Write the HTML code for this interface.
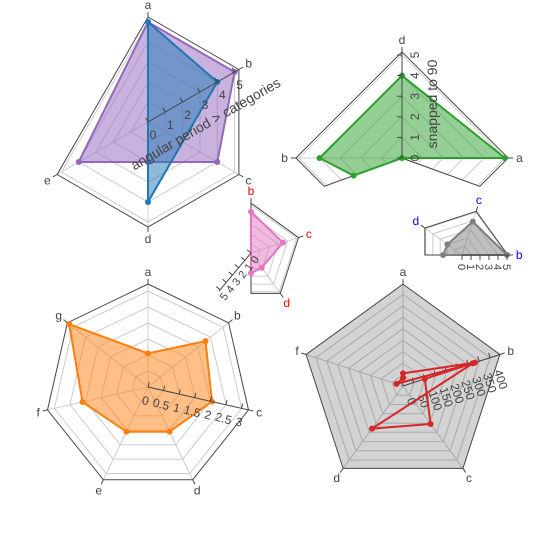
<!DOCTYPE html>
<html><head><meta charset="utf-8"><style>
html,body{margin:0;padding:0;background:#fff}
svg{display:block;font-family:"Liberation Sans","DejaVu Sans",sans-serif}
</style></head><body>
<svg id="chart" width="550" height="550" viewBox="0 0 550 550" xmlns="http://www.w3.org/2000/svg"></svg>
<script>
// ---- data ----
const p1Cats = ['a','b','c','d','e'];
const p1Purple = [5,5,4,2,4];
const p1BlueCats = ['a','b','d'];
const p1Blue = [5,4,4];
const p1Ticks = [0,1,2,3,4,5];
const p2Cats = ['a','d','b'];
const p2Green = [5,4,4,2.5,0];
const p2GreenAng = [0,90,180,200,0];
const p2Ticks = [0,1,2,3,4,5];
const p3Cats = ['b','c','d'];
const p3Pink = [4.3,3.5,1.9,2.1];
const p3Ticks = [0,1,2,3,4,5];
const p4Cats = ['b','c','d'];
const p4Gray = [5,3.9,2,2.1];
const p4Ticks = [0,1,2,3,4,5];
const p5Cats = ['a','b','c','d','e','f','g'];
const p5Orange = [1.05,2.3,2.05,1.55,1.55,2.1,3.15];
const p5Ticks = [0,0.5,1,1.5,2,2.5,3];
const p6Cats = ['a','b','c','d','f'];
const p6SeqCats = ['a','b','b','c','d','b','f','a'];
const p6Red = [55,330,100,205,230,320,30,35];
const p6Ticks = [0,50,100,150,200,250,300,350,400];

const svg = document.getElementById('chart');
const NS = 'http://www.w3.org/2000/svg';
function mk(tag, attrs, parent){const e=document.createElementNS(NS,tag);for(const k in attrs)e.setAttribute(k,attrs[k]);(parent||svg).appendChild(e);return e;}
function P(c,deg,v){const r=v*c.unit;const a=deg*Math.PI/180;return [c.cx+r*Math.cos(a), c.cy-r*Math.sin(a)];}
function norm(a){a=a%360;if(a<0)a+=360;return a;}
function polyR(verts,theta,r){
  const vs=verts.map(norm).sort((x,y)=>x-y);const t=norm(theta);
  for(let i=0;i<vs.length;i++){let v1=vs[i],v2=i+1<vs.length?vs[i+1]:vs[0]+360;let tt=t<v1?t+360:t;
    if(tt>=v1&&tt<=v2){const half=(v2-v1)/2,mid=(v1+v2)/2;return r*Math.cos(half*Math.PI/180)/Math.cos((tt-mid)*Math.PI/180);}}
  return r;
}
function ringPts(c,r){
  if(!c.sector){return c.verts.map(d=>P(c,d,r));}
  const [s,e]=c.sector;const pts=[];
  pts.push(P(c,s,polyR(c.verts,s,r)));
  const inside=c.verts.map(v=>{let d=v;while(d<s)d+=360;while(d>s+360)d-=360;return d;}).filter(d=>d>s&&d<e).sort((a,b)=>a-b);
  inside.forEach(d=>pts.push(P(c,d,r)));
  pts.push(P(c,e,polyR(c.verts,e,r)));
  pts.push([c.cx,c.cy]);
  return pts;
}
function ps(pts){return pts.map(p=>p[0].toFixed(1)+','+p[1].toFixed(1)).join(' ');}
function drawFrame(c,name){
  const g=mk('g',{});
  
  
  if(c.bg){mk('polygon',{points:ps(ringPts(c,c.frame)),fill:c.bg,stroke:'none'},g);}
  c.rings.forEach(r=>{mk('polygon',{points:ps(ringPts(c,r)),fill:'none',stroke:c.grid||'#cccccc','stroke-width':1},g);});
  c.verts.forEach(d=>{if(c.sector){let dd=d;while(dd<c.sector[0])dd+=360;if(dd>c.sector[1])return;}const q=P(c,d,c.frame);mk('line',{x1:c.cx,y1:c.cy,x2:q[0],y2:q[1],stroke:c.grid||'#cccccc','stroke-width':1},g);});
  mk('polygon',{points:ps(ringPts(c,c.frame)),fill:'none',stroke:'#444','stroke-width':1},g);
  return g;
}
function angLabels(c,cats,angs,color,name){
  cats.forEach((t,i)=>{
    const d=angs[i];const a=d*Math.PI/180;const R=c.frame*c.unit;
    const x1=c.cx+R*Math.cos(a),y1=c.cy-R*Math.sin(a),x2=c.cx+(R+5)*Math.cos(a),y2=c.cy-(R+5)*Math.sin(a);
    const tk=mk('line',{x1:x1,y1:y1,x2:x2,y2:y2,stroke:'#444','stroke-width':1});
    
    
    const lx=c.cx+(R+12)*Math.cos(a),ly=c.cy-(R+12)*Math.sin(a)+4;
    const tx=mk('text',{x:lx,y:ly,'text-anchor':Math.abs(Math.cos(a))<0.3?'middle':(Math.cos(a)>0?'start':'end'),'font-size':12,fill:color});
    if(Math.abs(Math.cos(a))>=0.3){tx.setAttribute('x',lx+(Math.cos(a)>0?-4:4));}
    tx.textContent=t;
    
    
  });
}
function radAxis(c,deg,ticks,name,lblOff,rot,fs,tickSide,anchor){
  const a=deg*Math.PI/180;const e=P(c,deg,c.frame);
  const ax=mk('line',{x1:c.cx,y1:c.cy,x2:e[0],y2:e[1],stroke:'#444','stroke-width':1});
  
  
  const nx=Math.sin(a),ny=Math.cos(a);
  ticks.forEach(t=>{
    const p=P(c,deg,t);
    const tk=mk('line',{x1:p[0],y1:p[1],x2:p[0]+tickSide*nx*5,y2:p[1]+tickSide*ny*5,stroke:'#444','stroke-width':1});
    
    
    const lx=p[0]+nx*lblOff[0]+lblOff[1],ly=p[1]+ny*lblOff[0]+lblOff[2];
    const tx=mk('text',{x:lx,y:ly,'text-anchor':anchor||'middle','font-size':fs||12,fill:'#444',transform:'rotate('+rot+' '+lx+' '+ly+')'});
    tx.textContent=t;
    
    
  });
}
function marks(c,angs,vals,color,fill,name,close){
  const pts=vals.map((v,i)=>P(c,angs[i],v));
  const sh=mk(close?'polygon':'polyline',{points:ps(pts),fill:fill,stroke:color,'stroke-width':2,'stroke-linejoin':'round'});
  
  
  pts.forEach(p=>{const m=mk('circle',{cx:p[0],cy:p[1],r:3,fill:color});
    
    });
}

// ---- plot 1 ----
const c1={cx:148,cy:122,unit:20,verts:[90,30,-30,-90,-150],frame:5.25,rings:[1,2,3,4,5]};
const a1={a:90,b:30,c:-30,d:-90,e:-150};
drawFrame(c1,'polar1-grid');
marks(c1,p1Cats.map(k=>a1[k]),p1Purple,'#9467bd','rgba(148,103,189,0.5)','purple-series',true);
marks(c1,p1BlueCats.map(k=>a1[k]),p1Blue,'#1f77b4','rgba(31,119,180,0.5)','blue-series',true);
radAxis(c1,30,p1Ticks,'polar1-radial-axis',[16,-3,3],0,12,-1);
angLabels(c1,p1Cats,p1Cats.map(k=>a1[k]),'#444','polar1-angular');
{const t=mk('text',{x:208,y:128,'text-anchor':'middle','font-size':14,fill:'#444',transform:'rotate(-30 208 128)'});t.textContent='angular period > categories';}

// ---- plot 2 ----
const c2={cx:402,cy:158,unit:20.6,verts:[0,90,180,270],sector:[-20,200],frame:5.15,rings:[1,2,3,4,5]};
const a2={a:0,d:90,b:180};
drawFrame(c2,'polar2-grid');
marks(c2,p2GreenAng,p2Green,'#2ca02c','rgba(44,160,44,0.5)','green-series',true);
radAxis(c2,90,p2Ticks,'polar2-radial-axis',[17,0,0],-90,12,-1);
angLabels(c2,p2Cats,p2Cats.map(k=>a2[k]),'#444','polar2-angular');
{const t=mk('text',{x:437,y:104,'text-anchor':'middle','font-size':14,fill:'#444',transform:'rotate(-90 437 104)'});t.textContent='snapped to 90';}

// ---- plot 3 ----
const c3={cx:251,cy:253,unit:9.6,verts:[90,18,-54,-126,162],sector:[-90,90],frame:5.2,rings:[1,2,3,4,5]};
const a3={b:90,c:18,d:-54};
drawFrame(c3,'polar3-grid');
marks(c3,[90,18,-54,-90],p3Pink,'#e377c2','rgba(227,119,194,0.5)','pink-series',true);
radAxis(c3,-130,p3Ticks,'polar3-radial-axis',[-9,0,3],-55,11,1);
angLabels(c3,p3Cats,p3Cats.map(k=>a3[k]),'#ff0000','polar3-angular');

// ---- plot 4 ----
const c4={cx:462,cy:255,unit:9,verts:[0,72,144,216,288],sector:[0,180],frame:5.1,rings:[1,2,3,4,5]};
const a4={b:0,c:72,d:144};
drawFrame(c4,'polar4-grid');
marks(c4,[0,72,144,180],p4Gray,'#7f7f7f','rgba(127,127,127,0.5)','gray-series',true);
radAxis(c4,0,p4Ticks,'polar4-radial-axis',[9,-4,0],90,11,1,'start');
angLabels(c4,p4Cats,p4Cats.map(k=>a4[k]),'#0000ff','polar4-angular');

// ---- plot 5 ----
const s7=360/7;
const a5=p5Cats.map((k,i)=>90-i*s7);
const c5={cx:148,cy:387,unit:32,verts:a5,frame:3.22,rings:[0.5,1,1.5,2,2.5,3]};
drawFrame(c5,'polar5-grid');
marks(c5,a5,p5Orange,'#ff7f0e','rgba(255,127,14,0.5)','orange-series',true);
radAxis(c5,90-2*s7,p5Ticks,'polar5-radial-axis',[16,0,2],15,12,-1);
angLabels(c5,p5Cats,a5,'#444','polar5-angular');

// ---- plot 6 ----
const a6={a:90,b:18,c:-54,d:-126,f:162};
const c6={cx:403,cy:386,unit:0.229,verts:[90,18,-54,-126,162],frame:445,rings:[50,100,150,200,250,300,350,400],bg:'#d3d3d3',grid:'#a9a9a9'};
drawFrame(c6,'polar6-grid');
radAxis(c6,18,p6Ticks,'polar6-radial-axis',[12,0,2],72,12,-1,'start');
marks(c6,p6SeqCats.map(k=>a6[k]),p6Red,'#d62728','none','red-series',false);
angLabels(c6,p6Cats,p6Cats.map(k=>a6[k]),'#444','polar6-angular');
</script>
</body></html>
